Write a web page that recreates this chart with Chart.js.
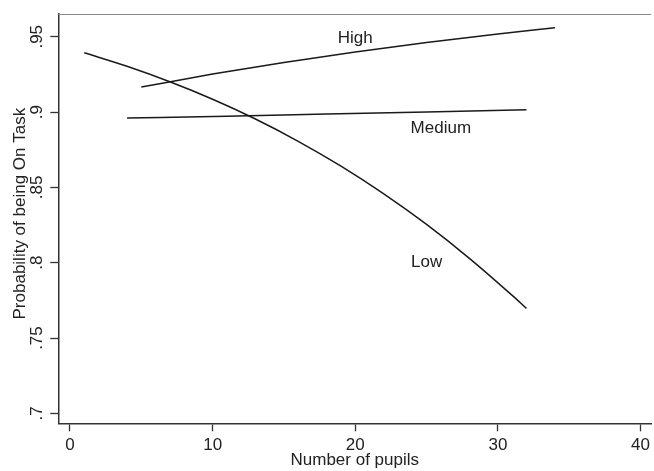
<!DOCTYPE html>
<html>
<head>
<meta charset="utf-8">
<script src="https://cdn.jsdelivr.net/npm/chart.js@4.4.1/dist/chart.umd.min.js"></script>
<style>
	html, body { margin: 0; padding: 0; background: #fff; overflow: hidden; }
	canvas { display: block; }
</style>
</head>
<body>
<canvas id="cnvs" width="654" height="471"></canvas>
<script>
// values
var lowX = [1, 4, 7, 10, 13, 16, 19, 22, 25, 28, 31, 32];
var lowY = [0.9394, 0.9304, 0.9201, 0.9085, 0.8954, 0.8806, 0.8641, 0.8457, 0.8254, 0.8029, 0.7783, 0.7697];
var medX = [4, 11, 18, 25, 32];
var medY = [0.896, 0.8973, 0.8987, 0.9001, 0.9015];
var highX = [5, 10, 15, 20, 25, 30, 34];
var highY = [0.9166, 0.9252, 0.9329, 0.9399, 0.9462, 0.9519, 0.956];

var xTicks = [0, 10, 20, 30, 40];
var yTicks = [0.7, 0.75, 0.8, 0.85, 0.9, 0.95];

var tagText = ['High', 'Medium', 'Low'];
var tagX = [20, 26, 25];
var tagY = [0.949, 0.889, 0.80];

var yTitle = 'Probability of being On Task';

var FONT = '"Liberation Sans", Arial, sans-serif';
var INK = '#222';

function pts(xs, ys)
{
	return xs.map(function(x, i) { return {x: x, y: ys[i]}; });
}

function line(d)
{
	return {
		data: d,
		borderColor: '#1a1a1a',
		borderWidth: 1.5,
		pointRadius: 0,
		fill: false,
		cubicInterpolationMode: 'monotone'
	};
}

function yLabel(v)
{
	return String(+v.toFixed(2)).replace(/^0/, '');
}

var extras = {
	id: 'extras',
	afterDraw: function(chart)
	{
		var ctx = chart.ctx;
		var a = chart.chartArea;
		var xs = chart.scales.x, ys = chart.scales.y;

		// top frame line
		ctx.save();
		ctx.strokeStyle = '#888';
		ctx.lineWidth = 1;
		ctx.beginPath();
		ctx.moveTo(a.left, a.top + 0.5);
		ctx.lineTo(a.right, a.top + 0.5);
		ctx.stroke();
		ctx.restore();

		// rotated y tick labels and y title
		ctx.save();
		ctx.fillStyle = INK;
		ctx.font = '17px ' + FONT;
		ctx.textAlign = 'center';
		ctx.textBaseline = 'alphabetic';
		ys.ticks.forEach(function(t) {
			var py = ys.getPixelForValue(t.value);
			ctx.save();
			ctx.translate(42, py);
			ctx.rotate(-Math.PI / 2);
			ctx.fillText(yLabel(t.value), 0, 0);
			ctx.restore();
		});
		ctx.save();
		ctx.translate(25, (a.top + a.bottom) / 2 - 5);
		ctx.rotate(-Math.PI / 2);
		ctx.fillText(yTitle, 0, 0);
		ctx.restore();
		ctx.restore();

		// series tags
		ctx.save();
		ctx.fillStyle = INK;
		ctx.font = '17px ' + FONT;
		ctx.textAlign = 'center';
		ctx.textBaseline = 'middle';
		tagText.forEach(function(s, i) {
			ctx.fillText(s, xs.getPixelForValue(tagX[i]), ys.getPixelForValue(tagY[i]));
		});
		ctx.restore();
	}
};

var ctx = document.getElementById('cnvs').getContext('2d');
var chart = new Chart(ctx, {
	type: 'line',
	data: {
		datasets: [line(pts(highX, highY)), line(pts(medX, medY)), line(pts(lowX, lowY))]
	},
	options: {
		responsive: false,
		animation: false,
		devicePixelRatio: 1,
		layout: { padding: { top: 14, right: 0, bottom: 0, left: 0 } },
		plugins: { legend: { display: false }, tooltip: { enabled: false } },
		scales: {
			x: {
				type: 'linear',
				min: -0.82,
				max: 40.75,
				afterBuildTicks: function(s) { s.ticks = xTicks.map(function(v) { return {value: v}; }); },
				afterFit: function(s) { s.height = 47.7; },
				ticks: { color: INK, font: { family: FONT, size: 17 }, padding: 4, maxRotation: 0 },
				grid: { drawOnChartArea: false, drawTicks: true, tickLength: 8, tickColor: '#333', tickWidth: 1.3 },
				border: { display: true, color: '#333', width: 1.5 },
				title: { display: true, text: 'Number of pupils', color: INK, font: { family: FONT, size: 17 }, padding: 0 }
			},
			y: {
				type: 'linear',
				min: 0.6934,
				max: 0.9651,
				afterBuildTicks: function(s) { s.ticks = yTicks.map(function(v) { return {value: v}; }); },
				afterFit: function(s) { s.width = 58.3; },
				ticks: { display: false },
				grid: { drawOnChartArea: false, drawTicks: true, tickLength: 8, tickColor: '#333', tickWidth: 1.3 },
				border: { display: true, color: '#333', width: 1.5 },
				title: { display: false }
			}
		}
	},
	plugins: [extras]
});
</script>
</body>
</html>
